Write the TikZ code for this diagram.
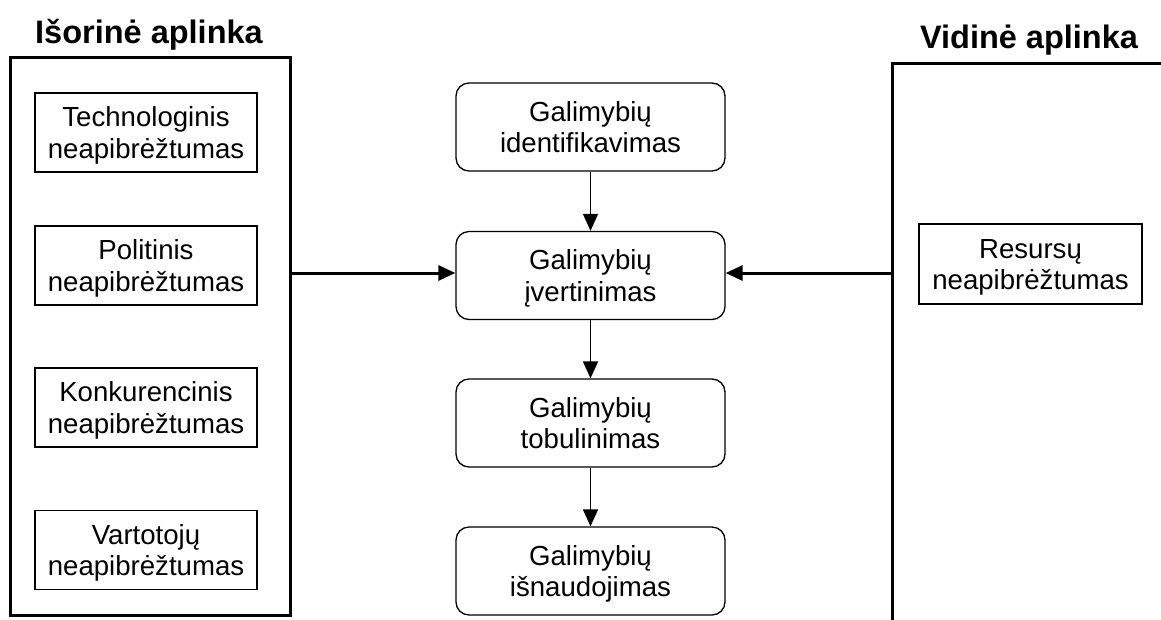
\documentclass[tikz,border=0pt]{standalone}
\usepackage{fontspec}
\setmainfont{Liberation Sans}
\usetikzlibrary{arrows.meta}

% two centred lines, balanced from the cap line of the first to the baseline of the second
\newcommand{\twoline}[2]{\rule{0pt}{19.8pt}\smash{#1}\\\smash{#2}}

\tikzset{
  factor/.style={draw=black, line width=1.3pt, minimum width=222pt, minimum height=79pt,
    align=center, inner sep=0pt, font=\fontsize{27.6}{31.5}\selectfont},
  stage/.style={draw=black, line width=1.3pt, rounded corners=13pt, minimum width=269pt,
    minimum height=88pt, align=center, inner sep=0pt, font=\fontsize{27.6}{31.5}\selectfont},
  frame/.style={draw=black, line width=3pt},
  heading/.style={anchor=base, inner sep=0pt, font=\fontsize{32.5}{39}\selectfont\bfseries},
  flow/.style={line width=1.5pt, -{Triangle[length=17pt,width=15pt]}},
  feed/.style={line width=3pt, -{Triangle[length=17pt,width=15pt]}}
}

\begin{document}
\begin{tikzpicture}[x=1pt, y=-1pt]
  \useasboundingbox (0,0) rectangle (1161,619);

  % external environment
  \node[heading] (exttitle) at (149,43.5) {Išorinė aplinka};
  \node[frame, minimum width=280pt, minimum height=558pt, inner sep=0pt] (ext) at (150,336) {};
  \node[factor] (tech) at (146,132.5) {\twoline{Technologinis}{neapibrėžtumas}};
  \node[factor] (pol)  at (146,265.5) {\twoline{Politinis}{neapibrėžtumas}};
  \node[factor] (konk) at (146,407.5) {\twoline{Konkurencinis}{neapibrėžtumas}};
  \node[factor] (vart) at (146,550)   {\twoline{Vartotojų}{neapibrėžtumas}};

  % internal environment (open frame)
  \node[heading] (inttitle) at (1029,48.5) {Vidinė aplinka};
  \coordinate (itop) at (892,63);
  \coordinate (iside) at (892,273);
  \draw[line width=3pt] (1170,63) -- (itop) -- (892,630);
  \node[factor, minimum width=223pt, minimum height=80pt] (res) at (1030.5,264) {\twoline{Resursų}{neapibrėžtumas}};

  % opportunity process
  \node[stage] (ident) at (590.5,127)   {\twoline{Galimybių}{identifikavimas}};
  \node[stage] (ivert) at (590.5,275.5) {\twoline{Galimybių}{įvertinimas}};
  \node[stage] (tobul) at (590.5,423)   {\twoline{Galimybių}{tobulinimas}};
  \node[stage] (isnau) at (590.5,571)   {\twoline{Galimybių}{išnaudojimas}};

  \draw[flow] (ident) -- (ivert);
  \draw[flow] (ivert) -- (tobul);
  \draw[flow] (tobul) -- (isnau);

  \draw[feed] (ext.east |- iside) -- (ivert.west |- iside);
  \draw[feed] (iside) -- (ivert.east |- iside);
\end{tikzpicture}
\end{document}
